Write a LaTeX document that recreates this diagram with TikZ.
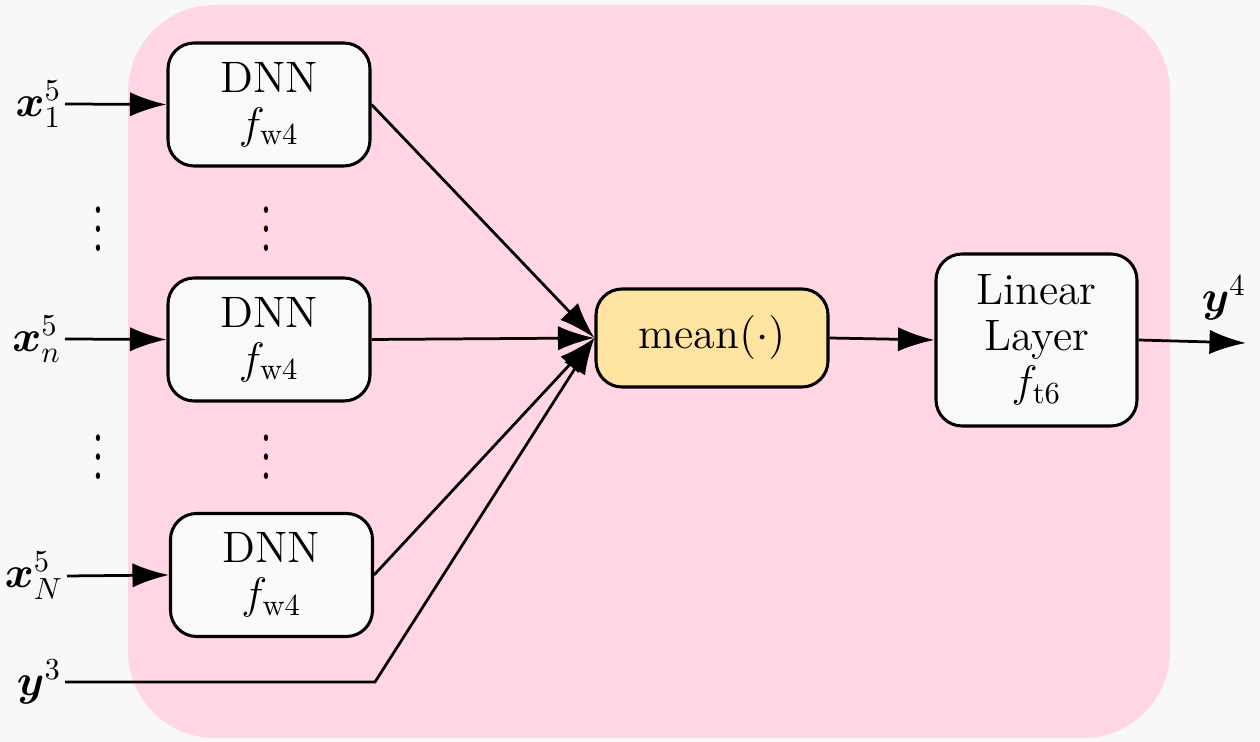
\documentclass[tikz,border=0pt]{standalone}
\usepackage{amsmath,bm}
\usetikzlibrary{arrows.meta}
\definecolor{bgc}{HTML}{F8F8F8}
\definecolor{pinkc}{HTML}{FFD6E1}
\definecolor{boxc}{HTML}{F9F9F9}
\definecolor{meanc}{HTML}{FFE3A0}
\begin{document}
\begin{tikzpicture}[x=0.0115cm,y=-0.0115cm,font=\Large,
  box/.style={draw=black,line width=1pt,rounded corners=0.3cm,fill=boxc,align=center,inner sep=0pt},
  arr/.style={-{Latex[length=0.42cm,width=0.28cm]},line width=0.9pt},
  lbl/.style={inner sep=1pt},
  dots/.style={yscale=1.55,inner sep=0pt}]
\fill[bgc] (0,0) rectangle (1260,742);
\useasboundingbox (0,0) rectangle (1260,742);
\fill[pinkc,rounded corners=1.0cm] (128,5) rectangle (1170,738);
% DNN boxes
\node[box,minimum width=202*0.0115cm,minimum height=123*0.0115cm] (d1) at (269,104.5) {DNN\\[-3pt]$f_{\mathrm{w4}}$};
\node[box,minimum width=202*0.0115cm,minimum height=123*0.0115cm] (d2) at (269,339.5) {DNN\\[-3pt]$f_{\mathrm{w4}}$};
\node[box,minimum width=202*0.0115cm,minimum height=123*0.0115cm] (d3) at (271.5,575) {DNN\\[-3pt]$f_{\mathrm{w4}}$};
% mean
\node[box,fill=meanc,minimum width=232*0.0115cm,minimum height=98*0.0115cm] (m) at (712,338) {mean$(\cdot)$};
% linear
\node[box,minimum width=201*0.0115cm,minimum height=172*0.0115cm] (l) at (1036.5,340) {Linear\\[-3pt]Layer\\[-3pt]$f_{\mathrm{t6}}$};
% inputs
\node[lbl,anchor=east] (x1) at (65,104) {$\bm{x}_1^5$};
\node[lbl,anchor=east] (xn) at (65,339) {$\bm{x}_n^5$};
\node[lbl,anchor=east] (xN) at (67,576) {$\bm{x}_N^5$};
\node[lbl,anchor=east] (y3) at (65,682) {$\bm{y}^3$};
\node[lbl] (y4) at (1224,298) {$\bm{y}^4$};
\coordinate (out) at (1246,343);
\coordinate (bend) at (375,682);
% dots
\node[dots] (v1) at (98,215) {$\vdots$};
\node[dots] (v2) at (266,215) {$\vdots$};
\node[dots] (v3) at (98,443) {$\vdots$};
\node[dots] (v4) at (266,443) {$\vdots$};
% connectors
\draw[arr] (x1.east) -- (d1.west);
\draw[arr] (xn.east) -- (d2.west);
\draw[arr] (xN.east) -- (d3.west);
\draw[arr] (d1.east) -- (m.west);
\draw[arr] (d2.east) -- (m.west);
\draw[arr] (d3.east) -- (m.west);
\draw[arr] (y3.east) -- (bend) -- (m.west);
\draw[arr] (m.east) -- (l.west);
\draw[arr] (l.east) -- (out);
\end{tikzpicture}
\end{document}
